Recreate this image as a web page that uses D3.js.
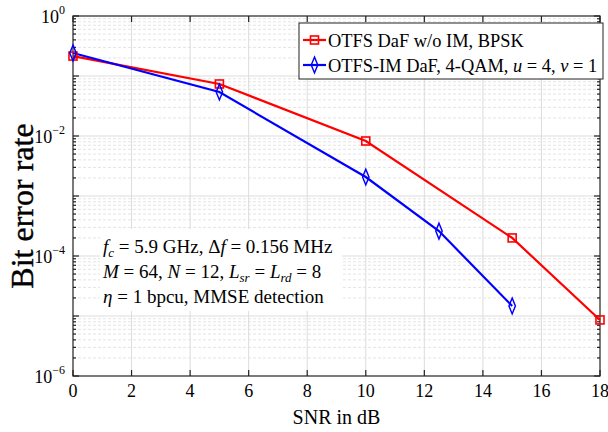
<!DOCTYPE html>
<html><head><meta charset="utf-8">
<script src="https://cdn.jsdelivr.net/npm/d3@7"></script>
<style>body{margin:0;background:#fff}svg{display:block}text{font-family:"Liberation Serif","DejaVu Serif",serif}</style>
</head><body><svg id="c" width="608" height="432"></svg>
<script>
const snrRed = [0, 5, 10, 15, 18];
const berRed = [0.215, 0.0736, 0.00825, 2.0e-4, 8.6e-6];
const snrBlue = [0, 5, 10, 12.5, 15];
const berBlue = [0.242, 0.054, 0.00207, 2.6e-4, 1.47e-5];
const xTicks = [0, 2, 4, 6, 8, 10, 12, 14, 16, 18];
const yExps = [0, -2, -4, -6];
const legendLabels = ["OTFS DaF w/o IM, BPSK", "OTFS-IM DaF, 4-QAM, "];

const svg = d3.select("#c");
const L = 73, R = 600, T = 16, B = 376;
const x = d3.scaleLinear().domain([0, 18]).range([L, R]);
const y = d3.scaleLog().domain([1e-6, 1]).range([B, T]);

const minors = [];
for (let e = -6; e < 0; e++) for (let k = 2; k <= 9; k++) minors.push(k * Math.pow(10, e));
const g = svg.append("g");
g.selectAll(".mg").data(minors).enter().append("line")
  .attr("x1", L).attr("x2", R).attr("y1", d => y(d)).attr("y2", d => y(d))
  .attr("stroke", "#e4e4e4").attr("stroke-width", 1).attr("stroke-dasharray", "3,2");
g.selectAll(".Mg").data(d3.range(-5, 0).map(e => Math.pow(10, e))).enter().append("line")
  .attr("x1", L).attr("x2", R).attr("y1", d => y(d)).attr("y2", d => y(d))
  .attr("stroke", "#dcdcdc").attr("stroke-width", 1);
g.selectAll(".vg").data(xTicks.slice(1, -1)).enter().append("line")
  .attr("y1", T).attr("y2", B).attr("x1", d => x(d)).attr("x2", d => x(d))
  .attr("stroke", "#dcdcdc").attr("stroke-width", 1);

// annotation
svg.append("rect").attr("x", 100).attr("y", 229).attr("width", 242).attr("height", 82).attr("fill", "#fff");
const ann = svg.append("g").attr("font-size", 19).attr("fill", "#000");
const a1 = ann.append("text").attr("x", 103).attr("y", 253);
a1.append("tspan").attr("font-style", "italic").text("f");
a1.append("tspan").attr("font-style", "italic").attr("font-size", 13).attr("dy", 4).text("c");
a1.append("tspan").attr("dy", -4).text(" = 5.9 GHz, Δ");
a1.append("tspan").attr("font-style", "italic").text("f");
a1.append("tspan").text(" = 0.156 MHz");
const a2 = ann.append("text").attr("x", 103).attr("y", 278);
a2.append("tspan").attr("font-style", "italic").text("M");
a2.append("tspan").text(" = 64, ");
a2.append("tspan").attr("font-style", "italic").text("N");
a2.append("tspan").text(" = 12, ");
a2.append("tspan").attr("font-style", "italic").text("L");
a2.append("tspan").attr("font-style", "italic").attr("font-size", 13).attr("dy", 4).text("sr");
a2.append("tspan").attr("dy", -4).text(" = ");
a2.append("tspan").attr("font-style", "italic").text("L");
a2.append("tspan").attr("font-style", "italic").attr("font-size", 13).attr("dy", 4).text("rd");
a2.append("tspan").attr("dy", -4).text(" = 8");
const a3 = ann.append("text").attr("x", 103).attr("y", 303);
a3.append("tspan").attr("font-style", "italic").text("η");
a3.append("tspan").text(" = 1 bpcu, MMSE detection");

// axes box & ticks
const ax = svg.append("g").attr("stroke", "#222").attr("stroke-width", 1.2);
ax.append("rect").attr("x", L).attr("y", T).attr("width", R - L).attr("height", B - T).attr("fill", "none");
xTicks.forEach(t => {
  ax.append("line").attr("x1", x(t)).attr("x2", x(t)).attr("y1", B).attr("y2", B - 6);
  ax.append("line").attr("x1", x(t)).attr("x2", x(t)).attr("y1", T).attr("y2", T + 6);
});
minors.forEach(v => {
  ax.append("line").attr("x1", L).attr("x2", L + 3).attr("y1", y(v)).attr("y2", y(v));
  ax.append("line").attr("x1", R).attr("x2", R - 3).attr("y1", y(v)).attr("y2", y(v));
});
d3.range(-6, 1).forEach(e => {
  const v = Math.pow(10, e);
  ax.append("line").attr("x1", L).attr("x2", L + 6).attr("y1", y(v)).attr("y2", y(v));
  ax.append("line").attr("x1", R).attr("x2", R - 6).attr("y1", y(v)).attr("y2", y(v));
});

// tick labels
svg.append("g").selectAll("text").data(xTicks).enter().append("text")
  .attr("x", d => x(d)).attr("y", B + 21).attr("text-anchor", "middle").attr("font-size", 18).text(d => d);
yExps.forEach(e => {
  const t = svg.append("text").attr("x", L - 8).attr("y", y(Math.pow(10, e)) + 7).attr("text-anchor", "end").attr("font-size", 18);
  t.append("tspan").text("10");
  t.append("tspan").attr("font-size", 12).attr("dy", -9).text(e === 0 ? "0" : "−" + (-e));
});
svg.append("text").attr("x", x(9)).attr("y", 424).attr("text-anchor", "middle").attr("font-size", 20).text("SNR in dB");
svg.append("text").attr("transform", `translate(33,${(T + B) / 2 + 10}) rotate(-90)`).attr("text-anchor", "middle")
  .attr("font-size", 32).attr("stroke", "#000").attr("stroke-width", 0.4).text("Bit error rate");

// series
const line = d3.line().x(d => x(d[0])).y(d => y(d[1]));
const red = snrRed.map((s, i) => [s, berRed[i]]);
const blue = snrBlue.map((s, i) => [s, berBlue[i]]);
svg.append("path").datum(red).attr("d", line).attr("fill", "none").attr("stroke", "#ff0000").attr("stroke-width", 2.2);
svg.append("path").datum(blue).attr("d", line).attr("fill", "none").attr("stroke", "#0000ff").attr("stroke-width", 2.2);
svg.selectAll(".sq").data(red).enter().append("rect")
  .attr("x", d => x(d[0]) - 4).attr("y", d => y(d[1]) - 4).attr("width", 8).attr("height", 8)
  .attr("fill", "none").attr("stroke", "#ff0000").attr("stroke-width", 1.6);
const dia = d3.symbol().type(d3.symbolDiamond).size(50);
svg.selectAll(".dm").data(blue).enter().append("path")
  .attr("transform", d => `translate(${x(d[0])},${y(d[1])}) scale(0.85,1.2)`).attr("d", dia)
  .attr("fill", "none").attr("stroke", "#0000ff").attr("stroke-width", 1.6);

// legend
const lg = svg.append("g");
lg.append("rect").attr("x", 299).attr("y", 23).attr("width", 304).attr("height", 56).attr("fill", "#fff").attr("stroke", "#222").attr("stroke-width", 1);
lg.append("line").attr("x1", 303).attr("x2", 326).attr("y1", 40).attr("y2", 40).attr("stroke", "#ff0000").attr("stroke-width", 2.2);
lg.append("rect").attr("x", 310.5).attr("y", 36).attr("width", 8).attr("height", 8).attr("fill", "none").attr("stroke", "#ff0000").attr("stroke-width", 1.6);
lg.append("line").attr("x1", 303).attr("x2", 326).attr("y1", 65).attr("y2", 65).attr("stroke", "#0000ff").attr("stroke-width", 2.2);
lg.append("path").attr("transform", "translate(314.5,65) scale(0.85,1.2)").attr("d", dia).attr("fill", "none").attr("stroke", "#0000ff").attr("stroke-width", 1.6);
lg.append("text").attr("x", 328).attr("y", 47).attr("font-size", 18.4).text(legendLabels[0]);
const l2 = lg.append("text").attr("x", 328).attr("y", 72).attr("font-size", 18.4);
l2.append("tspan").text(legendLabels[1]);
l2.append("tspan").attr("font-style", "italic").text("u");
l2.append("tspan").text(" = 4, ");
l2.append("tspan").attr("font-style", "italic").text("v");
l2.append("tspan").text(" = 1");
</script></body></html>
